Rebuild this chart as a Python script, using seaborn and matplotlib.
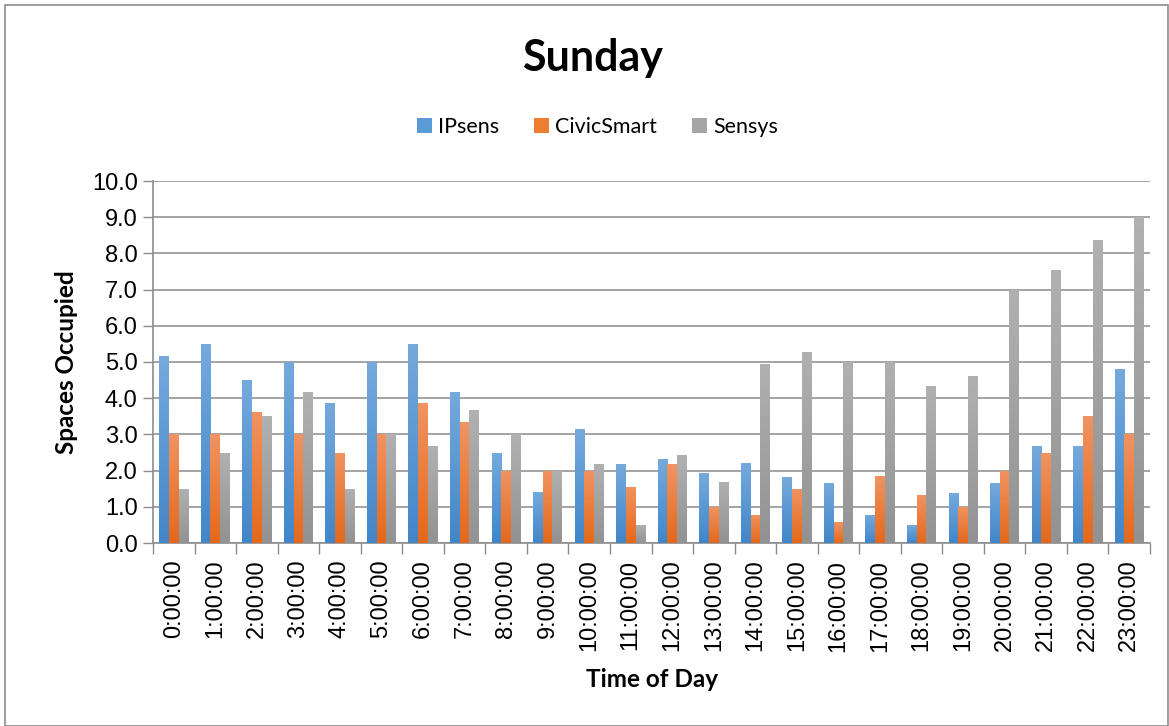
import numpy as np
import pandas as pd
import matplotlib
matplotlib.use("Agg")
import matplotlib.pyplot as plt
import seaborn as sns
from matplotlib.patches import Rectangle, Patch
from matplotlib.colors import LinearSegmentedColormap

hours = [f"{h}:00:00" for h in range(24)]
ipsens = [5.17, 5.5, 4.5, 5.0, 3.86, 5.0, 5.5, 4.17, 2.5, 1.42, 3.14, 2.17,
          2.33, 1.92, 2.22, 1.81, 1.67, 0.78, 0.5, 1.39, 1.67, 2.67, 2.67, 4.81]
civicsmart = [3.0, 3.0, 3.61, 3.0, 2.5, 3.0, 3.86, 3.33, 2.0, 2.0, 2.0, 1.56,
              2.17, 1.0, 0.78, 1.5, 0.58, 1.86, 1.33, 1.0, 2.0, 2.5, 3.5, 3.0]
sensys = [1.5, 2.5, 3.5, 4.17, 1.5, 3.0, 2.67, 3.67, 3.0, 2.0, 2.19, 0.5,
          2.42, 1.69, 4.94, 5.28, 5.0, 5.0, 4.33, 4.61, 7.0, 7.53, 8.36, 9.0]
series_names = ["IPsens", "CivicSmart", "Sensys"]
y_ticks = [0, 1, 2, 3, 4, 5, 6, 7, 8, 9, 10]

df = pd.DataFrame({
    "Time": hours * 3,
    "Series": [s for s in series_names for _ in hours],
    "Value": ipsens + civicsmart + sensys,
})

base_colors = ["#5B9BD5", "#ED7D31", "#A5A5A5"]
grad = [("#4186C9", "#76AADD"), ("#E4681A", "#F19462"), ("#929292", "#B1B1B1")]

sns.set_theme(style="white")
plt.rcParams["font.family"] = ["Liberation Sans", "DejaVu Sans"]
plt.rcParams["text.color"] = "black"
plt.rcParams["axes.labelcolor"] = "black"
plt.rcParams["xtick.labelcolor"] = "black"
plt.rcParams["ytick.labelcolor"] = "black"

fig = plt.figure(figsize=(11.69, 7.26), dpi=100)
ax = fig.add_axes([153 / 1169, 1 - 543 / 726, (1150 - 153) / 1169, (543 - 181) / 726])

sns.barplot(data=df, x="Time", y="Value", hue="Series", order=hours,
            hue_order=series_names, palette=base_colors, width=0.7, gap=0,
            ax=ax, legend=False, linewidth=0, saturation=1, zorder=3)

# gradient fill of bars
grad_img = np.linspace(0, 1, 256).reshape(-1, 1)
for i, cont in enumerate(ax.containers):
    cmap = LinearSegmentedColormap.from_list(f"g{i}", [grad[i][0], grad[i][1]])
    for p in cont.patches:
        x0, y0 = p.get_x(), p.get_y()
        w, h = p.get_width(), p.get_height()
        if h <= 0:
            continue
        im = ax.imshow(grad_img, extent=[x0, x0 + w, y0, y0 + h], origin="lower",
                       cmap=cmap, aspect="auto", zorder=3, interpolation="bilinear")
        im.set_clip_path(p)
        p.set_facecolor("none")

ax.set_xlim(-0.5, 23.5)
ax.set_ylim(0, 10)
ax.set_yticks(y_ticks)
ax.set_yticklabels([f"{v:.1f}" for v in y_ticks], fontsize=17, color="black")
ax.set_xticks(range(24))
ax.set_xticklabels(hours, rotation=90, fontsize=17, color="black")
ax.set_xticks(np.arange(-0.5, 24, 1), minor=True)
ax.tick_params(axis="x", which="major", length=0, pad=12)
ax.tick_params(axis="x", which="minor", length=8, width=1, color="#8c8c8c", direction="out", bottom=True)
ax.tick_params(axis="y", length=7, width=1, color="#8c8c8c", direction="out", left=True, pad=4)

ax.grid(axis="y", color="#8c8c8c", linewidth=1.1, zorder=0)
ax.set_axisbelow(True)
for s in ["top", "right"]:
    ax.spines[s].set_visible(False)
for s in ["left", "bottom"]:
    ax.spines[s].set_color("#8c8c8c")
    ax.spines[s].set_linewidth(1.2)

ax.set_xlabel("Time of Day", fontsize=17.5, fontweight="bold", family=["Lato", "DejaVu Sans"],
              labelpad=12, color="black")
ax.set_ylabel("Spaces Occupied", fontsize=17.5, fontweight="bold", family=["Lato", "DejaVu Sans"],
              labelpad=10, color="black")

fig.text(0.507, 1 - 58 / 726, "Sunday", ha="center", va="center", fontsize=31,
         fontweight="bold", family=["Lato", "DejaVu Sans"], color="black")

handles = [Patch(facecolor=c, edgecolor="none") for c in base_colors]
fig.legend(handles, series_names, loc="center", bbox_to_anchor=(0.511, 1 - 127 / 726),
           ncol=3, frameon=False, prop={"family": ["Lato", "DejaVu Sans"], "size": 15.5},
           handlelength=0.7, handleheight=0.7, handletextpad=0.3, columnspacing=1.6,
           labelcolor="black")

fig.patches.append(Rectangle((5 / 1169, 0), 1 - 5 / 1169 - 1 / 1169, 1 - 5 / 726,
                             transform=fig.transFigure, fill=False,
                             edgecolor="#8c8c8c", linewidth=1.2))

fig.savefig("out.png", dpi=100)
